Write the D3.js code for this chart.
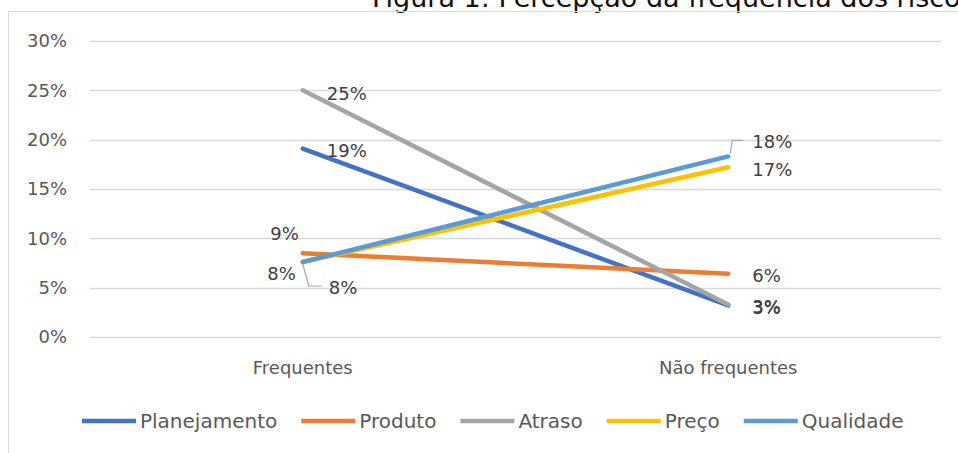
<!DOCTYPE html>
<html>
<head>
<meta charset="utf-8">
<script src="https://cdn.jsdelivr.net/npm/d3@7"></script>
<style>
  body { margin: 0; background: #fff; }
  text { font-family: "DejaVu Sans", Verdana, sans-serif; }
</style>
</head>
<body>
<script>
// data
var categories = ["Frequentes", "Não frequentes"];
var seriesNames = ["Planejamento", "Produto", "Atraso", "Preço", "Qualidade"];
var planejamento = [0.191, 0.032];
var produto = [0.085, 0.064];
var atraso = [0.250, 0.033];
var preco = [0.076, 0.172];
var qualidade = [0.076, 0.183];
var labelTexts = [["19%", "3%"], ["9%", "6%"], ["25%", "3%"], ["8%", "17%"], ["8%", "18%"]];
var yTicks = [0, 0.05, 0.10, 0.15, 0.20, 0.25, 0.30];

var colors = ["#4472C4", "#ED7D31", "#A5A5A5", "#FFC000", "#5B9BD5"];
var allSeries = [planejamento, produto, atraso, preco, qualidade];

// label placement (dx, dy, anchor, leader)
var labelPos = [
    [{dx: 24, dy: 2, a: "start"}, {dx: 24, dy: 2, a: "start"}],
    [{dx: -4, dy: -19, a: "end"}, {dx: 24, dy: 2, a: "start"}],
    [{dx: 24, dy: 3, a: "start"}, {dx: 24, dy: 2, a: "start"}],
    [{dx: -7, dy: 12, a: "end"}, {dx: 24, dy: 2, a: "start"}],
    [{dx: 26, dy: 26, a: "start", leader: true}, {dx: 24, dy: -15, a: "start", leader: true}]
];

var w = 958, h = 453;
var svg = d3.select("body").append("svg")
    .attr("width", w)
    .attr("height", h);

// title (cut off at the top like the source)
svg.append("text")
    .attr("x", 372)
    .attr("y", 7)
    .style("font-size", "27px")
    .style("fill", "#111")
    .text("Figura 1: Percepção da frequência dos riscos");

// chart frame
svg.append("rect")
    .attr("x", 8.5)
    .attr("y", 11.5)
    .attr("width", 1000)
    .attr("height", 500)
    .style("fill", "none")
    .style("stroke", "#d9d9d9")
    .style("stroke-width", 1);

var x = d3.scaleBand()
    .domain(categories)
    .range([90, 941]);

var y = d3.scaleLinear()
    .domain([0, 0.30])
    .range([337, 41]);

// gridlines
svg.selectAll(".grid")
    .data(yTicks)
    .enter()
    .append("line")
    .attr("class", "grid")
    .attr("x1", 90)
    .attr("x2", 941)
    .attr("y1", function(d){ return Math.round(y(d)) + 0.5; })
    .attr("y2", function(d){ return Math.round(y(d)) + 0.5; })
    .style("stroke", "#d9d9d9")
    .style("stroke-width", 1.3);

// y axis labels
var yAxis = d3.axisLeft(y)
    .tickValues(yTicks)
    .tickFormat(d3.format(".0%"))
    .tickSize(0)
    .tickPadding(0);
var ya = svg.append("g")
    .attr("class", "axis")
    .attr("transform", "translate(67,0)")
    .call(yAxis);
ya.select(".domain").remove();
ya.selectAll("text")
    .style("font-size", "18px")
    .style("fill", "#595959")
    .style("font-family", "DejaVu Sans, sans-serif");

// x axis labels
var xAxis = d3.axisBottom(x).tickSize(0).tickPadding(0);
var xa = svg.append("g")
    .attr("class", "axis")
    .attr("transform", "translate(0,361)")
    .call(xAxis);
xa.select(".domain").remove();
xa.selectAll("text")
    .style("font-size", "18px")
    .style("fill", "#595959")
    .style("font-family", "DejaVu Sans, sans-serif");

var cx = function(i){ return x(categories[i]) + x.bandwidth() / 2; };

var line = d3.line()
    .x(function(d, i){ return cx(i); })
    .y(function(d){ return y(d); });

// lines
svg.selectAll(".series")
    .data(allSeries)
    .enter()
    .append("path")
    .attr("class", "series")
    .attr("d", function(d){ return line(d); })
    .style("fill", "none")
    .style("stroke", function(d, i){ return colors[i]; })
    .style("stroke-width", 4.5)
    .style("stroke-linecap", "round");

// data labels
allSeries.forEach(function(vals, s){
    vals.forEach(function(v, i){
        var p = labelPos[s][i];
        var px = cx(i), py = y(v);
        if (p.leader) {
            var pts;
            if (p.dy > 0) {
                pts = [[px, py + 2], [px + 6, py + p.dy - 2], [px + 19, py + p.dy - 2]];
            } else {
                pts = [[px + 2, py - 3], [px + 4, py + p.dy - 1], [px + 15, py + p.dy - 1]];
            }
            svg.append("path")
                .attr("d", d3.line()(pts))
                .style("fill", "none")
                .style("stroke", "#a6a6a6")
                .style("stroke-width", 1.2);
        }
        svg.append("text")
            .attr("x", px + p.dx)
            .attr("y", py + p.dy)
            .attr("dy", "0.35em")
            .attr("text-anchor", p.a)
            .style("font-size", "18px")
            .style("fill", "#404040")
            .text(labelTexts[s][i]);
    });
});

// legend
var legend = svg.append("g").attr("class", "legend");
var lx = 82;
seriesNames.forEach(function(name, i){
    legend.append("line")
        .attr("x1", lx)
        .attr("x2", lx + 54)
        .attr("y1", 421)
        .attr("y2", 421)
        .style("stroke", colors[i])
        .style("stroke-width", 4.5);
    var t = legend.append("text")
        .attr("x", lx + 58)
        .attr("y", 421)
        .attr("dy", "0.35em")
        .style("font-size", "20px")
        .style("fill", "#595959")
        .text(name);
    lx += 58 + t.node().getComputedTextLength() + 24;
});
</script>
</body>
</html>
